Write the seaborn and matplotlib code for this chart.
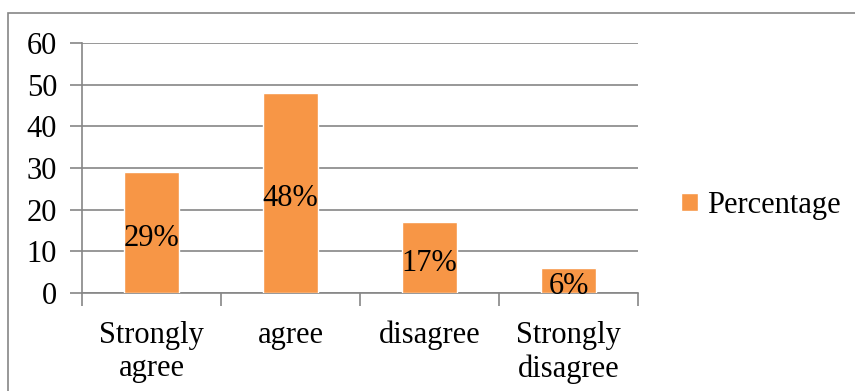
"""
Bar chart of survey responses (Excel-style)
"""
import matplotlib
matplotlib.use('Agg')
import matplotlib.pyplot as plt
import seaborn as sns
import pandas as pd
from matplotlib.patches import Rectangle

# data
categories = ['Strongly\nagree', 'agree', 'disagree', 'Strongly\ndisagree']
percentages = [29, 48, 17, 6]
bar_labels = ['29%', '48%', '17%', '6%']
series_name = 'Percentage'
y_ticks = [0, 10, 20, 30, 40, 50, 60]

bar_color = '#F79646'
grid_color = '#868686'
fs = 22

sns.set_style('white')
plt.rcParams['font.family'] = ['Liberation Serif', 'DejaVu Serif']
plt.rcParams['text.color'] = 'black'
plt.rcParams['xtick.color'] = 'black'
plt.rcParams['ytick.color'] = 'black'

df = pd.DataFrame({'category': categories, 'value': percentages})

fig = plt.figure(figsize=(8.55, 3.91), dpi=100)

# outer chart border (right and bottom run off the image)
fig.patches.append(Rectangle((8 / 855, -0.1), 1.0, 1 - 12.5 / 391 + 0.1,
                             transform=fig.transFigure, fill=False,
                             edgecolor=grid_color, linewidth=1.2))

ax = fig.add_axes([82 / 855, 1 - 293 / 391, (638 - 82) / 855, (293 - 43) / 391])

sns.barplot(data=df, x='category', y='value', color=bar_color, width=0.4,
            saturation=1, ax=ax, label=series_name, zorder=3)

ax.bar_label(ax.containers[0], labels=bar_labels, label_type='center',
             fontsize=fs, color='black', padding=-4)

# axes styling
ax.set_ylim(0, 60)
ax.set_xlim(-0.5, len(categories) - 0.5)
ax.set_yticks(y_ticks)
ax.yaxis.grid(True, color=grid_color, linewidth=1.2, zorder=0)
ax.set_axisbelow(True)
ax.set_xlabel('')
ax.set_ylabel('')

for side in ['top', 'right']:
    ax.spines[side].set_visible(False)
for side in ['left', 'bottom']:
    ax.spines[side].set_color(grid_color)
    ax.spines[side].set_linewidth(1.2)

ax.tick_params(axis='y', length=9, width=1.2, color=grid_color,
               labelcolor='black', labelsize=fs, pad=9, left=True)
ax.set_xticks(range(len(categories)))
ax.set_xticklabels(categories, fontsize=fs, linespacing=1.2, color='black')
ax.tick_params(axis='x', which='major', length=0, pad=20)
ax.set_xticks([i - 0.5 for i in range(len(categories) + 1)], minor=True)
ax.tick_params(axis='x', which='minor', length=9, width=1.2,
               color=grid_color, bottom=True)

leg = ax.legend(loc='center left', bbox_to_anchor=(1.055, 0.35), frameon=False,
                fontsize=fs, handlelength=0.55, handleheight=0.55,
                handletextpad=0.3, borderaxespad=0)
for t in leg.get_texts():
    t.set_color('black')

plt.savefig('out.png', dpi=100)
plt.close()
